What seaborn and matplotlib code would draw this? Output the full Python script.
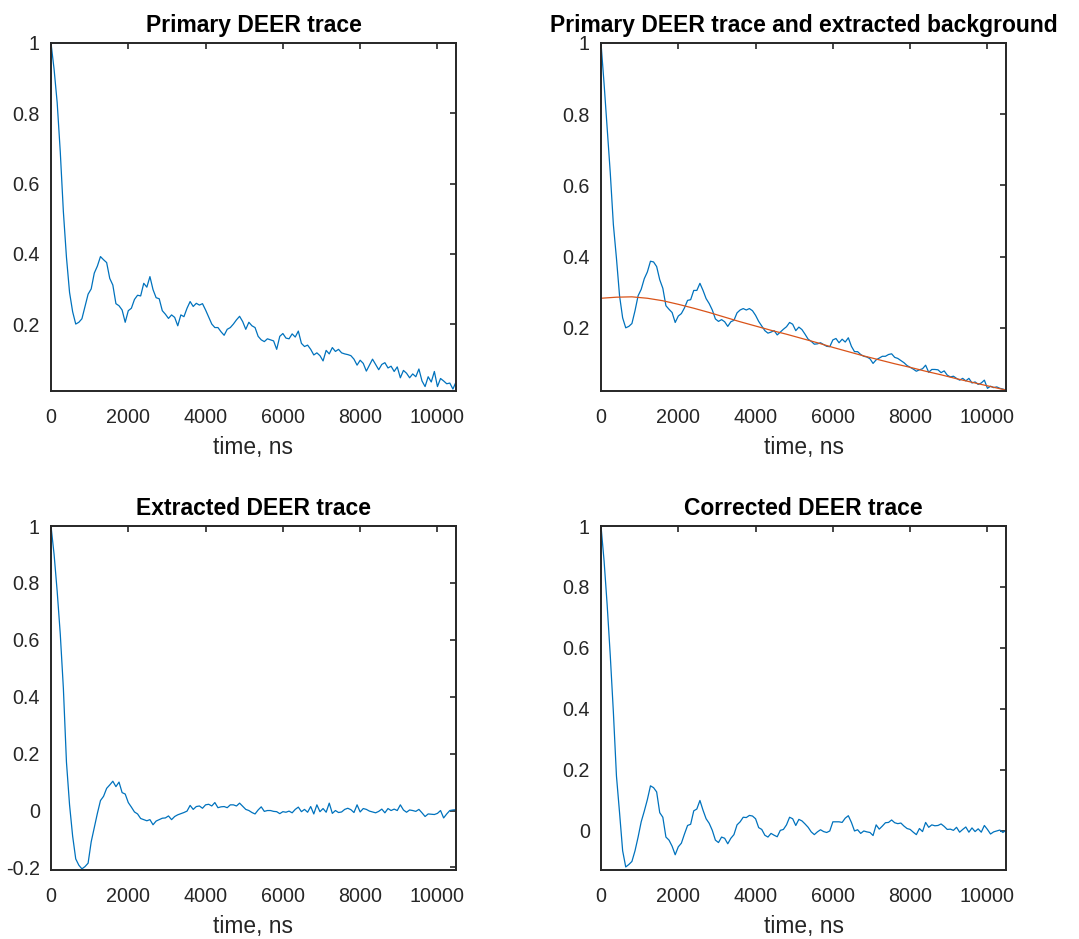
import numpy as np
import pandas as pd
import seaborn as sns
import matplotlib
matplotlib.use("Agg")
import matplotlib.pyplot as plt
from matplotlib.ticker import FormatStrFormatter, MultipleLocator

# Sampling interval of the DEER time axis (ns)
dt = 80

# Raw primary DEER echo, normalised to 1 at t = 0
primary_raw = [
    1.000, 0.925, 0.830, 0.690, 0.520, 0.390, 0.290, 0.235, 0.200, 0.205,
    0.215, 0.250, 0.285, 0.300, 0.345, 0.365, 0.392, 0.383, 0.375, 0.330,
    0.311, 0.258, 0.252, 0.240, 0.205, 0.238, 0.245, 0.270, 0.282, 0.280,
    0.316, 0.305, 0.335, 0.298, 0.275, 0.272, 0.238, 0.228, 0.216, 0.226,
    0.219, 0.195, 0.226, 0.221, 0.245, 0.264, 0.250, 0.259, 0.254, 0.258,
    0.240, 0.220, 0.200, 0.190, 0.190, 0.178, 0.168, 0.185, 0.190, 0.200,
    0.212, 0.222, 0.207, 0.185, 0.205, 0.195, 0.190, 0.165, 0.155, 0.150,
    0.158, 0.155, 0.152, 0.128, 0.165, 0.173, 0.160, 0.158, 0.172, 0.163,
    0.180, 0.145, 0.136, 0.140, 0.128, 0.112, 0.118, 0.110, 0.095, 0.125,
    0.115, 0.133, 0.122, 0.128, 0.118, 0.115, 0.113, 0.110, 0.100, 0.083,
    0.097, 0.088, 0.066, 0.083, 0.100, 0.085, 0.070, 0.085, 0.090, 0.075,
    0.080, 0.065, 0.078, 0.047, 0.068, 0.060, 0.047, 0.058, 0.050, 0.072,
    0.038, 0.022, 0.050, 0.035, 0.065, 0.022, 0.045, 0.038, 0.030, 0.032,
    0.015, 0.035,
]

# Smoothed primary echo used for the background fit
primary_smooth = [
    1.000, 0.885, 0.760, 0.635, 0.490, 0.395, 0.290, 0.228, 0.200, 0.204,
    0.212, 0.248, 0.290, 0.308, 0.338, 0.357, 0.387, 0.385, 0.372, 0.335,
    0.311, 0.262, 0.252, 0.243, 0.215, 0.233, 0.240, 0.256, 0.277, 0.279,
    0.305, 0.305, 0.325, 0.305, 0.282, 0.268, 0.250, 0.225, 0.218, 0.223,
    0.217, 0.204, 0.217, 0.221, 0.242, 0.250, 0.254, 0.250, 0.254, 0.248,
    0.235, 0.218, 0.205, 0.192, 0.185, 0.188, 0.192, 0.180, 0.188, 0.196,
    0.203, 0.215, 0.210, 0.192, 0.202, 0.195, 0.182, 0.168, 0.162, 0.154,
    0.155, 0.158, 0.153, 0.148, 0.147, 0.166, 0.170, 0.158, 0.168, 0.160,
    0.172, 0.148, 0.133, 0.133, 0.125, 0.120, 0.118, 0.113, 0.100, 0.110,
    0.115, 0.120, 0.120, 0.125, 0.127, 0.117, 0.114, 0.108, 0.102, 0.094,
    0.089, 0.084, 0.078, 0.082, 0.085, 0.095, 0.075, 0.083, 0.083, 0.082,
    0.074, 0.079, 0.067, 0.062, 0.064, 0.058, 0.053, 0.058, 0.051, 0.058,
    0.045, 0.048, 0.041, 0.045, 0.053, 0.030, 0.036, 0.032, 0.034, 0.030,
    0.028, 0.025,
]

# Fitted intermolecular background
background_t = [0, 400, 800, 1200, 1600, 2000, 2400, 2800, 3200, 3600,
                4000, 4400, 4800, 5200, 5600, 6000, 6400, 6800, 7200, 7600,
                8000, 8400, 8800, 9200, 9600, 10000, 10400, 10480]
background = [0.283, 0.286, 0.287, 0.283, 0.276, 0.266, 0.255, 0.243, 0.230, 0.217,
              0.205, 0.193, 0.182, 0.170, 0.158, 0.145, 0.133, 0.121, 0.110, 0.099,
              0.089, 0.078, 0.068, 0.057, 0.047, 0.037, 0.027, 0.025]

# Extracted (form-factor) DEER trace
extracted = [
    1.000, 0.900, 0.770, 0.620, 0.430, 0.170, 0.020, -0.090, -0.170, -0.192,
    -0.205, -0.197, -0.185, -0.110, -0.060, -0.010, 0.035, 0.050, 0.078, 0.090,
    0.103, 0.084, 0.100, 0.063, 0.058, 0.028, 0.012, -0.005, -0.012, -0.028,
    -0.032, -0.036, -0.032, -0.050, -0.037, -0.032, -0.027, -0.026, -0.019, -0.032,
    -0.021, -0.015, -0.011, -0.007, -0.002, 0.018, 0.004, 0.014, 0.016, 0.008,
    0.020, 0.022, 0.016, 0.028, 0.010, 0.013, 0.014, 0.010, 0.020, 0.020,
    0.016, 0.026, 0.015, 0.004, 0.000, -0.007, -0.012, 0.002, 0.013, -0.003,
    0.000, 0.000, -0.003, -0.004, -0.011, -0.004, -0.006, -0.002, -0.008, 0.004,
    0.012, -0.004, 0.004, -0.006, 0.014, -0.012, 0.020, -0.004, 0.007, -0.006,
    0.026, -0.010, 0.000, -0.007, -0.005, 0.004, 0.008, 0.003, -0.007, 0.020,
    -0.005, 0.007, 0.004, -0.002, -0.005, -0.008, -0.003, 0.005, -0.008, 0.007,
    0.000, 0.005, 0.000, 0.020, 0.002, -0.006, 0.002, 0.000, -0.003, 0.004,
    -0.008, -0.021, -0.012, -0.013, -0.014, -0.010, 0.000, -0.026, -0.012, 0.000,
    0.002, 0.003,
]

# Background-corrected DEER trace
corrected = [
    1.000, 0.885, 0.740, 0.575, 0.390, 0.180, 0.060, -0.065, -0.118, -0.110,
    -0.100, -0.065, -0.020, 0.030, 0.065, 0.103, 0.148, 0.142, 0.128, 0.060,
    0.045, -0.020, -0.030, -0.050, -0.078, -0.052, -0.040, -0.010, 0.018, 0.022,
    0.066, 0.072, 0.100, 0.068, 0.040, 0.025, 0.002, -0.030, -0.038, -0.020,
    -0.024, -0.042, -0.024, -0.012, 0.020, 0.030, 0.045, 0.044, 0.051, 0.049,
    0.040, 0.011, 0.005, -0.014, -0.020, -0.008, -0.014, -0.019, 0.002, 0.005,
    0.020, 0.045, 0.040, 0.018, 0.038, 0.033, 0.023, 0.012, -0.003, -0.012,
    -0.003, 0.004, -0.002, -0.005, 0.000, 0.030, 0.030, 0.030, 0.028, 0.042,
    0.050, 0.028, 0.000, 0.004, -0.008, 0.000, -0.003, -0.005, -0.015, 0.020,
    0.006, 0.016, 0.027, 0.028, 0.036, 0.027, 0.024, 0.026, 0.016, 0.008,
    0.005, -0.004, -0.012, 0.008, -0.002, 0.028, 0.012, 0.020, 0.017, 0.018,
    0.023, 0.015, 0.005, 0.006, 0.002, 0.012, -0.004, 0.005, 0.013, -0.004,
    0.010, -0.002, 0.007, -0.004, 0.018, 0.005, -0.010, -0.003, 0.000, 0.003,
    -0.005, 0.002,
]

titles = ["Primary DEER trace",
          "Primary DEER trace and extracted background",
          "Extracted DEER trace",
          "Corrected DEER trace"]
xlabel = "time, ns"
x_ticks = [0, 2000, 4000, 6000, 8000, 10000]
t_max = 10480

BLUE = "#0072BD"
ORANGE = "#D95319"
DARK = "#262626"

sns.set_theme(style="white")
plt.rcParams["font.family"] = ["Liberation Sans", "DejaVu Sans"]
plt.rcParams["axes.edgecolor"] = DARK
plt.rcParams["axes.linewidth"] = 1.4


def trace_frame(values):
    return pd.DataFrame({"t": np.arange(len(values)) * dt, "v": values})


fig = plt.figure(figsize=(10.79, 9.39), dpi=100)
W, H = 1079.0, 939.0
# axes boxes in pixels: (left, top, right, bottom)
boxes = [(51, 43, 456, 391), (601, 43, 1006, 391),
         (51, 526, 456, 870), (601, 526, 1006, 870)]
ylims = [(0.0094, 1.0), (0.0225, 1.0), (-0.209, 1.0), (-0.128, 1.0)]
series = [primary_raw, primary_smooth, extracted, corrected]

for i, (box, lim, vals, title) in enumerate(zip(boxes, ylims, series, titles)):
    l, t, r, b = box
    ax = fig.add_axes([l / W, 1 - b / H, (r - l) / W, (b - t) / H])
    sns.lineplot(data=trace_frame(vals), x="t", y="v", ax=ax,
                 color=BLUE, linewidth=0.9, estimator=None)
    if i == 1:
        sns.lineplot(x=background_t, y=background, ax=ax,
                     color=ORANGE, linewidth=0.9, estimator=None)
    ax.set_xlim(0, t_max)
    ax.set_ylim(*lim)
    ax.set_xticks(x_ticks)
    ax.yaxis.set_major_locator(MultipleLocator(0.2))
    ax.xaxis.set_major_formatter(FormatStrFormatter("%g"))
    ax.yaxis.set_major_formatter(FormatStrFormatter("%g"))
    ax.tick_params(direction="in", top=True, right=True, length=4.5, width=1.2,
                   color=DARK, labelcolor=DARK, labelsize=14.2)
    ax.tick_params(axis="x", pad=12)
    ax.tick_params(axis="y", pad=8)
    ax.set_xlabel(xlabel, fontsize=16.4, color=DARK, labelpad=7)
    ax.set_ylabel("")
    ax.set_title(title, fontsize=16.5, fontweight="bold", color="black", pad=8)
    for s in ax.spines.values():
        s.set_visible(True)
        s.set_color(DARK)

fig.savefig("out.png", dpi=100)
